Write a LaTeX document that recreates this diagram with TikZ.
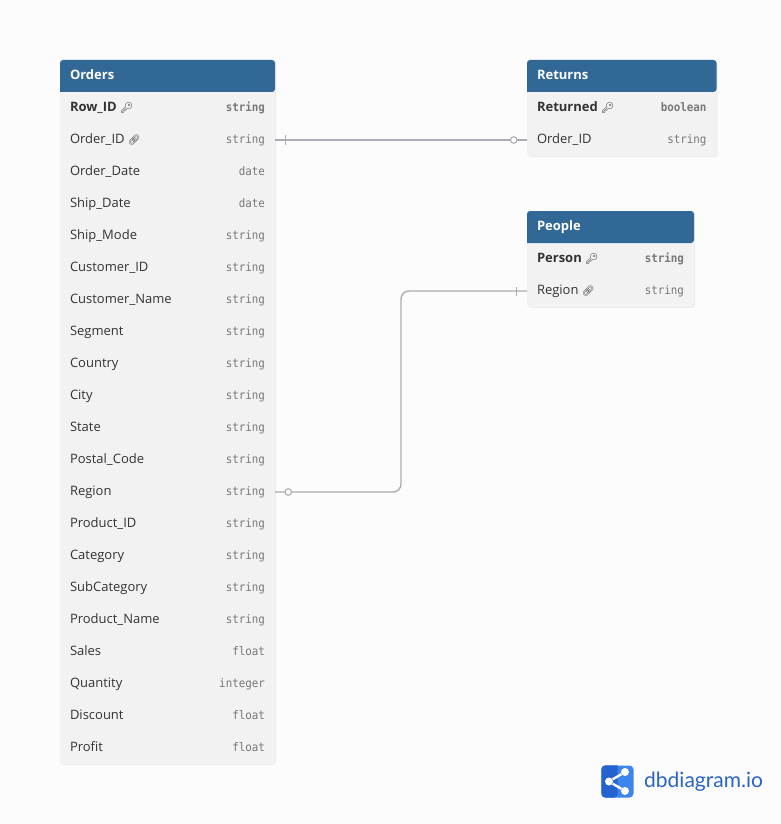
\documentclass[tikz,border=0pt]{standalone}
\usepackage{fontspec}
\setmainfont{Open Sans}
\newfontfamily\typefont[FakeStretch=0.92]{DejaVu Sans Mono}
\newfontfamily\emojifont{Noto Emoji}
\newfontfamily\logofont{Lato}
\usepackage{xcolor}
\usetikzlibrary{positioning, shadows}
\definecolor{headblue}{RGB}{49, 104, 150}
\definecolor{rowgrey}{RGB}{242, 242, 242}
\definecolor{pagebg}{RGB}{252, 252, 252}
\definecolor{inkgrey}{RGB}{51, 51, 51}
\definecolor{kindgrey}{RGB}{120, 120, 120}
\definecolor{linkgrey}{RGB}{172, 172, 178}
\definecolor{logoblue}{RGB}{60, 132, 238}
\definecolor{logodark}{RGB}{36, 98, 206}
\definecolor{logotext}{RGB}{42, 100, 200}

\newcommand{\keymark}{\hspace{-1pt}{\emojifont\fontsize{10.5}{15}\selectfont\symbol{"1F511}}}
\newcommand{\linkmark}{\hspace{-1pt}{\emojifont\fontsize{10}{15}\selectfont\symbol{"1F517}}}
\newcommand{\kindfont}{\typefont\fontsize{11.8}{15}\selectfont\color{kindgrey}}
\newcommand{\headband}[1]{\fill[headblue] ([yshift=-32pt]#1.north west) [rounded corners=3pt] -- (#1.north west) -- (#1.north east) -- ([yshift=-32pt]#1.north east) [sharp corners] -- cycle;}

\begin{document}
\begin{tikzpicture}[
    tablebox/.style={
        rectangle,
        fill=rowgrey,
        rounded corners=3pt,
        anchor=north west,
        inner sep=0pt,
        outer sep=0pt,
        drop shadow={shadow xshift=1pt, shadow yshift=-1pt, opacity=0.06, fill=black}
    },
    headbox/.style={
        rectangle,
        anchor=north west,
        minimum height=32pt,
        inner xsep=10pt,
        inner ysep=0pt,
        outer sep=0pt,
        text height=10pt,
        text depth=3pt,
        text=white,
        font=\fontsize{13}{15}\selectfont\bfseries
    },
    rowbox/.style={
        rectangle,
        text width=#1,
        minimum height=32pt,
        inner xsep=10pt,
        inner ysep=0pt,
        outer sep=0pt,
        text height=10pt,
        text depth=3pt,
        text=inkgrey,
        font=\fontsize{13}{15}\selectfont
    },
    link/.style={draw=linkgrey, line width=1.4pt},
    ringmark/.style={circle, draw=linkgrey, line width=1.1pt, fill=pagebg, minimum size=6.5pt, inner sep=0pt},
    tickmark/.style={rectangle, fill=linkgrey, minimum width=1pt, minimum height=9pt, inner sep=0pt},
    logodot/.style={circle, fill=white, minimum size=8pt, inner sep=0pt}
]
    \path[use as bounding box, fill=pagebg] (0,0) rectangle (781pt,-824pt);

    % tables
    \node[tablebox, minimum width=215pt, minimum height=704pt] (orders) at (60pt,-60pt) {};
    \fill[rowgrey] ([yshift=4pt]orders.south west) rectangle (orders.south east);
    \headband{orders}
    \node[headbox] (ordersHead) at (orders.north west) {Orders};
    \node[tablebox, minimum width=189.5pt, minimum height=96pt] (returns) at (527pt,-60pt) {};
    \headband{returns}
    \node[headbox] (returnsHead) at (returns.north west) {Returns};
    \node[tablebox, minimum width=167pt, minimum height=96pt] (people) at (527pt,-211pt) {};
    \headband{people}
    \node[headbox] (peopleHead) at (people.north west) {People};

    % orders rows
    \coordinate (orders0) at ([yshift=-32pt]orders.north);
    \foreach \id/\field/\kind [remember=\id as \prev (initially orders0)] in {
        oRowID/{\textbf{Row\_ID} \keymark}/{\bfseries string},
        oOrderID/{Order\_ID \linkmark}/string,
        oOrderDate/Order\_Date/date,
        oShipDate/Ship\_Date/date,
        oShipMode/Ship\_Mode/string,
        oCustomerID/Customer\_ID/string,
        oCustomerName/Customer\_Name/string,
        oSegment/Segment/string,
        oCountry/Country/string,
        oCity/City/string,
        oState/State/string,
        oPostalCode/Postal\_Code/string,
        oRegion/Region/string,
        oProductID/Product\_ID/string,
        oCategory/Category/string,
        oSubCategory/SubCategory/string,
        oProductName/Product\_Name/string,
        oSales/Sales/float,
        oQuantity/Quantity/integer,
        oDiscount/Discount/float,
        oProfit/Profit/float}
    {
        \node[rowbox=195pt, below=0pt of \prev] (\id) {\field\hfill{\kindfont\kind}};
    }

    % returns and people rows
    \node[rowbox=169.5pt, anchor=north] (rReturned) at ([yshift=-32pt]returns.north) {\textbf{Returned} \keymark\hfill{\kindfont\bfseries boolean}};
    \node[rowbox=169.5pt, below=0pt of rReturned] (rOrderID) {Order\_ID\hfill{\kindfont string}};
    \node[rowbox=147pt, anchor=north] (pPerson) at ([yshift=-32pt]people.north) {\textbf{Person} \keymark\hfill{\kindfont\bfseries string}};
    \node[rowbox=147pt, below=0pt of pPerson] (pRegion) {Region \linkmark\hfill{\kindfont string}};

    % connectors
    \draw[link] (oOrderID.east) -- (rOrderID.west);
    \node[tickmark, right=10pt of oOrderID] (tickOrders) {};
    \node[ringmark, left=9.5pt of rOrderID] (ringReturns) {};
    \draw[link, rounded corners=8pt] (oRegion.east) -- ++(126pt,0) |- (pRegion.west);
    \node[ringmark, right=9.5pt of oRegion] (ringOrders) {};
    \node[tickmark, left=10pt of pRegion] (tickPeople) {};

    % logo
    \node[rectangle, fill=logoblue, rounded corners=4pt, minimum size=32pt, inner sep=0pt] (logo) at (617.5pt,-781.5pt) {};
    \fill[logodark] (logo.north) [rounded corners=4pt] -- (logo.north west) -- (logo.south west) -- (logo.south) [sharp corners] -- cycle;
    \node[logodot] (dotLeft) at (609pt,-781.5pt) {};
    \node[logodot] (dotTop) at (625pt,-772pt) {};
    \node[logodot] (dotBottom) at (625pt,-791pt) {};
    \draw[white, line width=2.4pt] (dotTop) -- (dotLeft) -- (dotBottom);
    \node[anchor=west, inner sep=0pt, text=logotext, font=\logofont\fontsize{21}{24}\selectfont] (logoText) at (644pt,-781.5pt) {dbdiagram.io};
\end{tikzpicture}
\end{document}
